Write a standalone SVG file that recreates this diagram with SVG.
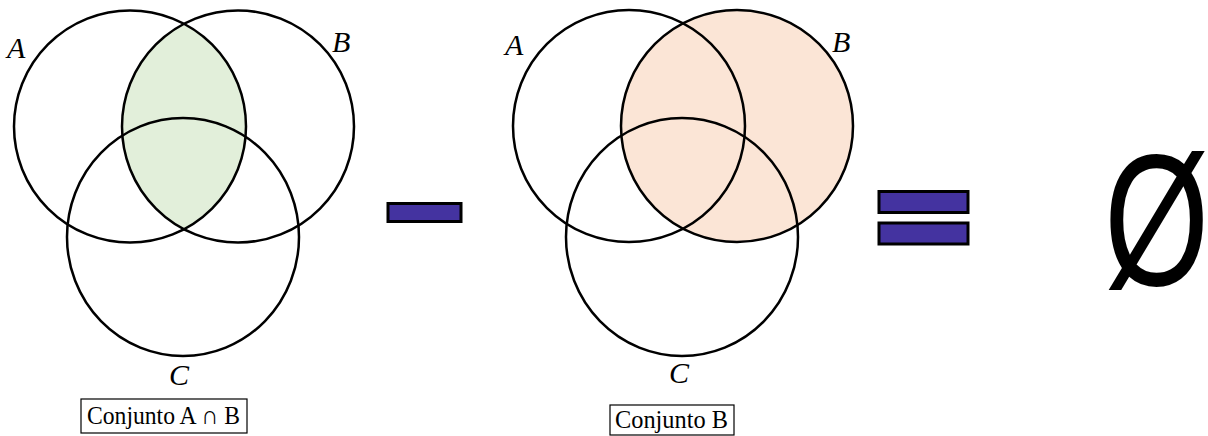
<svg xmlns="http://www.w3.org/2000/svg" width="1208" height="436" viewBox="0 0 1208 436">
<style>
.ring{fill:none;stroke:#000;stroke-width:2.5}
.lbl{font-family:"Liberation Serif","DejaVu Serif",serif;font-style:italic;font-size:30px;fill:#000}
.box{fill:#fff;stroke:#000;stroke-width:1.2}
.btxt{font-family:"Liberation Serif","DejaVu Serif",serif;font-size:26px;fill:#000}
.op{fill:#4433A0;stroke:#000;stroke-width:3}
</style>
<defs>
<clipPath id="clipA1"><circle cx="130" cy="126.5" r="116"/></clipPath>
</defs>
<rect width="1208" height="436" fill="#fff"/>
<g id="venn-left">
<circle cx="238" cy="126.5" r="116" fill="#E2EFDA" clip-path="url(#clipA1)"/>
<circle class="ring" cx="130" cy="126.5" r="116"/>
<circle class="ring" cx="238" cy="126.5" r="116"/>
<ellipse class="ring" cx="183" cy="237" rx="116" ry="119"/>
<text class="lbl" x="7" y="58">A</text>
<text class="lbl" x="332" y="52">B</text>
<text class="lbl" x="169" y="385">C</text>
</g>
<g id="label-left">
<rect class="box" x="81" y="399" width="166" height="34"/>
<text class="btxt" x="87" y="424" textLength="153" lengthAdjust="spacingAndGlyphs">Conjunto A ∩ B</text>
</g>
<g id="minus">
<rect class="op" x="388" y="203.5" width="73" height="18"/>
</g>
<g id="venn-right">
<circle cx="737" cy="126" r="116" fill="#FBE5D6"/>
<circle class="ring" cx="629" cy="126" r="116"/>
<circle class="ring" cx="737" cy="126" r="116"/>
<ellipse class="ring" cx="682" cy="237" rx="116" ry="119"/>
<text class="lbl" x="505" y="55">A</text>
<text class="lbl" x="832" y="52">B</text>
<text class="lbl" x="669" y="383">C</text>
</g>
<g id="label-right">
<rect class="box" x="610" y="405" width="124" height="30"/>
<text class="btxt" x="615" y="428" textLength="113" lengthAdjust="spacingAndGlyphs">Conjunto B</text>
</g>
<g id="equals">
<rect class="op" x="879" y="191.5" width="89" height="21"/>
<rect class="op" x="879" y="223" width="89" height="21"/>
</g>
<g id="empty-set">
<text transform="translate(1104,285) scale(0.72,1)" x="0" y="0" font-family="Liberation Sans, Arial, sans-serif" font-size="188" fill="#000">Ø</text>
</g>
</svg>
